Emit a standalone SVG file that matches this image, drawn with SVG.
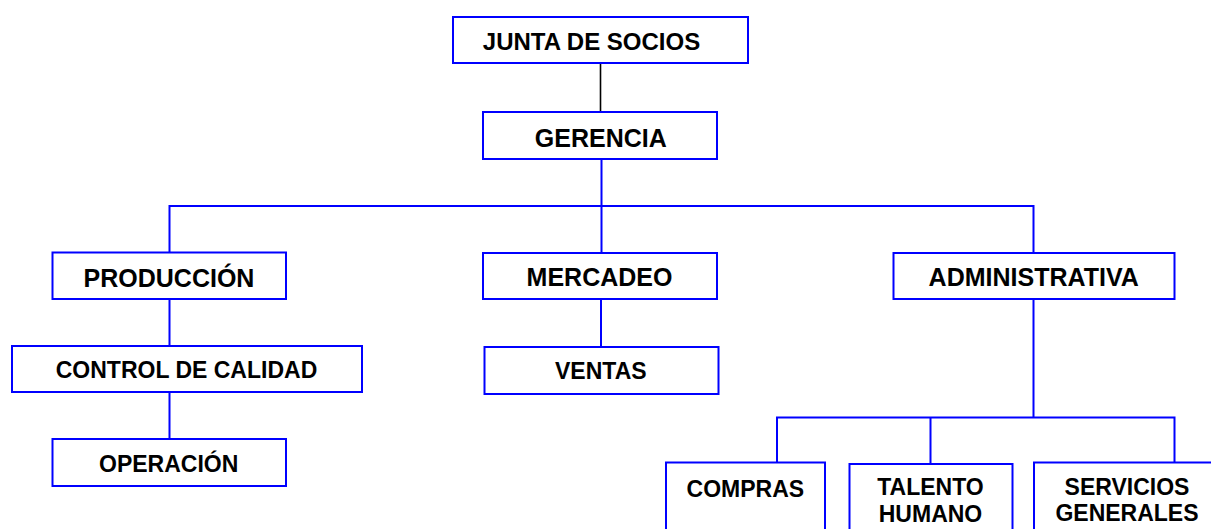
<svg xmlns="http://www.w3.org/2000/svg" width="1211" height="529" viewBox="0 0 1211 529">
<style>
  .box { fill: #ffffff; stroke: #0000ff; stroke-width: 2; }
  .t { font-family: "Liberation Sans", Arial, sans-serif; font-weight: bold; fill: #000000; text-anchor: middle; }
  .lg { font-size: 25px; }
  .sm { font-size: 23px; }
  .conn { fill: none; stroke: #0000ff; stroke-width: 2; }
</style>
<rect width="1211" height="529" fill="#ffffff"/>
<g id="connectors">
  <line x1="600.5" y1="63" x2="600.5" y2="112" stroke="#000000" stroke-width="1.6"/>
  <path class="conn" d="M601.5 159 V253 M169.5 253 V206 H1033.5 V253"/>
  <path class="conn" d="M169.5 299 V346 M169.5 392 V439"/>
  <path class="conn" d="M601 299 V347"/>
  <path class="conn" d="M1033.5 299 V417.5 M777 462 V417.5 H1174.5 V462 M930.5 417.5 V464"/>
</g>
<g id="junta">
  <rect class="box" x="453" y="17" width="295" height="46"/>
  <text class="t" x="591.5" y="50" font-size="24">JUNTA DE SOCIOS</text>
</g>
<g id="gerencia">
  <rect class="box" x="483" y="112" width="234" height="47"/>
  <text class="t lg" x="600.8" y="146.5">GERENCIA</text>
</g>
<g id="produccion">
  <rect class="box" x="52.5" y="252.5" width="233.5" height="46.5"/>
  <text class="t lg" x="169" y="286.5">PRODUCCIÓN</text>
</g>
<g id="control">
  <rect class="box" x="12" y="346" width="350" height="46"/>
  <text class="t sm" x="186.5" y="378.3">CONTROL DE CALIDAD</text>
</g>
<g id="operacion">
  <rect class="box" x="52.5" y="439" width="233.5" height="47"/>
  <text class="t sm" x="168.7" y="471.7">OPERACIÓN</text>
</g>
<g id="mercadeo">
  <rect class="box" x="483" y="253" width="234" height="46"/>
  <text class="t lg" x="599.5" y="286">MERCADEO</text>
</g>
<g id="ventas">
  <rect class="box" x="484.5" y="347" width="234" height="47"/>
  <text class="t sm" x="600.8" y="379.3">VENTAS</text>
</g>
<g id="administrativa">
  <rect class="box" x="893.5" y="253" width="281" height="46"/>
  <text class="t lg" x="1033.7" y="285.7">ADMINISTRATIVA</text>
</g>
<g id="compras">
  <rect class="box" x="666" y="462.5" width="159" height="80"/>
  <text class="t sm" x="745.3" y="496.7">COMPRAS</text>
</g>
<g id="talento">
  <rect class="box" x="849.5" y="464" width="163" height="80"/>
  <text class="t sm" x="930.5" y="495">TALENTO</text>
  <text class="t sm" x="930.5" y="521.5">HUMANO</text>
</g>
<g id="servicios">
  <rect class="box" x="1034" y="462.5" width="190" height="80"/>
  <text class="t sm" x="1127" y="495">SERVICIOS</text>
  <text class="t sm" x="1127" y="521">GENERALES</text>
</g>
</svg>
